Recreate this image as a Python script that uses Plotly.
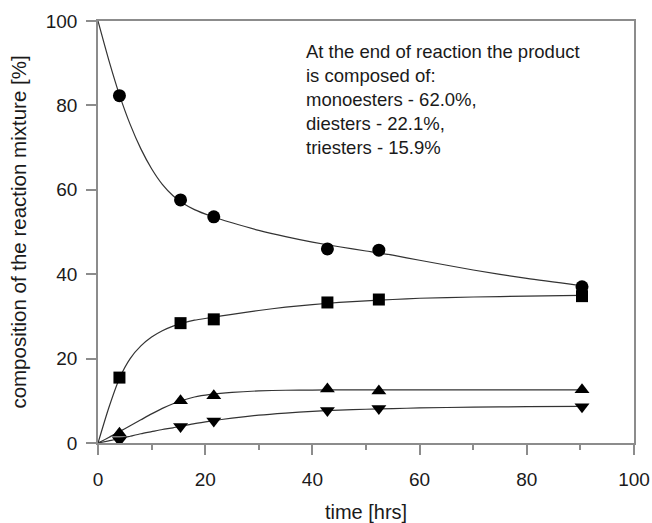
import plotly.graph_objects as go

# measured data
time_pts = [4, 15.4, 21.6, 42.8, 52.4, 90.3]
mono = [82.3, 57.6, 53.6, 46.0, 45.7, 37.0]
di = [15.5, 28.4, 29.3, 33.3, 34.0, 34.8]
tri_up = [2.3, 10.0, 11.2, 12.8, 12.3, 12.6]
tri_down = [0.6, 3.9, 5.2, 7.7, 8.2, 8.6]

# fitted curves
fit_x = [0, 2, 4, 6, 8, 10, 12, 14, 16, 18, 21, 25, 30, 35, 40, 45, 50, 55, 60, 70, 80, 90]
fit_mono = [100, 90.8, 82.5, 75.5, 69.7, 65.0, 61.3, 58.6, 56.7, 55.3, 53.8, 52.2, 50.4, 48.9, 47.6, 46.5, 45.5, 44.5, 43.3, 41.0, 39.0, 37.3]
fit_di = [0, 8.3, 15.3, 20.0, 23.0, 25.1, 26.6, 27.7, 28.5, 29.1, 29.7, 30.5, 31.4, 32.2, 32.8, 33.3, 33.7, 34.0, 34.3, 34.6, 34.8, 35.0]
fit_up = [0, 1.3, 2.7, 4.1, 5.5, 6.9, 8.2, 9.3, 10.2, 10.9, 11.5, 12.0, 12.35, 12.5, 12.55, 12.6, 12.6, 12.6, 12.6, 12.6, 12.6, 12.6]
fit_down = [0, 0.5, 1.0, 1.6, 2.2, 2.7, 3.2, 3.6, 4.1, 4.6, 5.2, 5.9, 6.6, 7.1, 7.5, 7.8, 8.0, 8.15, 8.3, 8.5, 8.6, 8.7]

note_lines = ["At the end of reaction the product", "is composed of:",
              "monoesters - 62.0%,", "diesters - 22.1%,", "triesters - 15.9%"]

FONT = "Liberation Sans, Arial, sans-serif"
TXT = "#1a1a1a"
fig = go.Figure()
line_style = dict(color="#333333", width=1.2, shape="spline", smoothing=0.6)
for fy in [fit_mono, fit_di, fit_up, fit_down]:
    fig.add_trace(go.Scatter(x=fit_x, y=fy, mode="lines", line=line_style,
                             showlegend=False, hoverinfo="skip"))
for vals, sym, size in [(mono, "circle", 13), (di, "square", 12),
                        (tri_up, "triangle-up", 13), (tri_down, "triangle-down", 13)]:
    fig.add_trace(go.Scatter(x=time_pts, y=vals, mode="markers",
                             marker=dict(symbol=sym, size=size, color="black"),
                             showlegend=False))

fig.add_annotation(x=38.4, y=81.3, xref="x", yref="y", text="<br>".join(note_lines),
                   showarrow=False, xanchor="left", yanchor="middle", align="left",
                   font=dict(family=FONT, size=18.5, color=TXT))

axis_common = dict(showgrid=False, zeroline=False, showline=True, linecolor="#8c8c8c",
                   linewidth=1.5, mirror=True, ticks="outside", ticklen=10,
                   tickcolor="#8c8c8c", tickwidth=1.5, automargin=False,
                   tickfont=dict(family=FONT, size=19, color=TXT))
fig.update_xaxes(range=[0, 100], dtick=20, tick0=0, ticklabelstandoff=8,
                 minor=dict(dtick=10, tick0=0, ticks="outside", ticklen=5,
                            tickcolor="#8c8c8c", tickwidth=1.5),
                 title=dict(text="time [hrs]", font=dict(family=FONT, size=20, color=TXT),
                            standoff=18),
                 **axis_common)
fig.update_yaxes(range=[0, 100], dtick=20, tick0=0, ticklabelstandoff=5,
                 title=dict(text="composition of the reaction mixture [%]",
                            font=dict(family=FONT, size=20.5, color=TXT), standoff=14),
                 **axis_common)
fig.update_layout(width=652, height=523, margin=dict(l=98, r=18, t=21, b=80),
                  plot_bgcolor="white", paper_bgcolor="white")
fig.write_html("out.html")
